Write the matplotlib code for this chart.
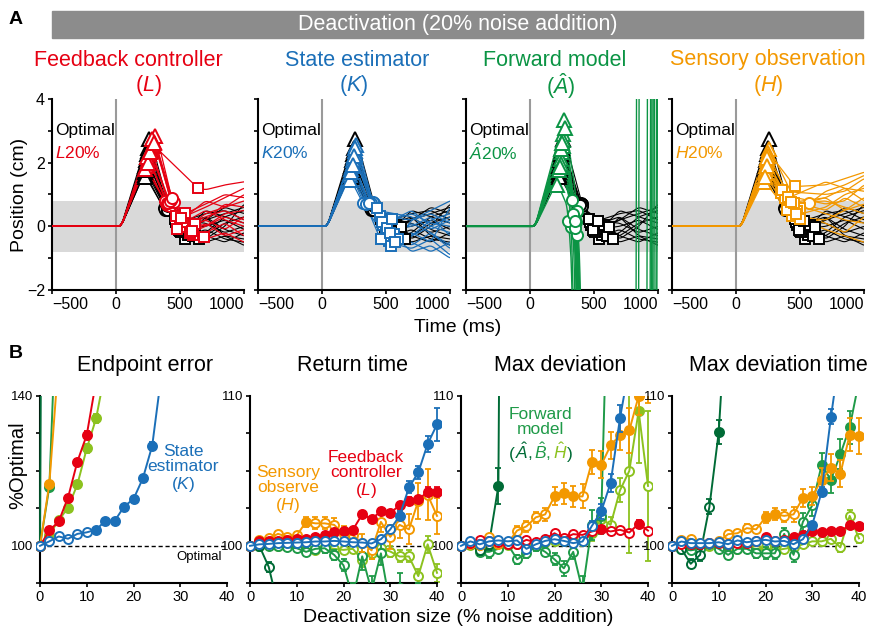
import numpy as np
import matplotlib
matplotlib.use("Agg")
import matplotlib.pyplot as plt
import matplotlib.transforms as mtransforms
from matplotlib.patches import Rectangle
from matplotlib.offsetbox import TextArea, HPacker, AnnotationBbox

plt.rcParams['font.family'] = 'Liberation Sans'
plt.rcParams['mathtext.fontset'] = 'custom'
plt.rcParams['mathtext.rm'] = 'Liberation Sans'
plt.rcParams['mathtext.it'] = 'Liberation Sans:italic'

RED = "#e60012"
BLUE = "#1b6fb8"
GREEN = "#0b9444"
ORANGE = "#f39800"
DKGREEN = "#006b36"
MDGREEN = "#1f9a48"
LTGREEN = "#8cc21f"

# ---------------- panel A: trajectories ----------------
# rows: (t_peak, peak, t_circle, y_circle, t_square, y_square, y@700, y@850, y@1000)
opt_rows = [
    (260, 2.9, 410, 0.65, 540, -0.45, -0.3, 0.1, 0.3),
    (250, 2.6, 400, 0.70, 500, -0.20, 0.2, 0.4, 0.6),
    (240, 2.4, 400, 0.60, 480, 0.00, 0.3, -0.1, -0.3),
    (235, 2.2, 395, 0.65, 560, -0.30, -0.1, -0.4, -0.5),
    (230, 2.0, 390, 0.60, 470, 0.10, 0.4, 0.5, 0.2),
    (230, 1.9, 385, 0.55, 520, -0.10, 0.0, 0.2, -0.1),
    (225, 1.8, 380, 0.60, 600, -0.35, -0.2, 0.3, 0.5),
    (225, 1.7, 380, 0.50, 460, 0.20, 0.1, -0.2, 0.0),
    (220, 1.65, 375, 0.55, 650, -0.40, -0.5, -0.3, -0.6),
    (245, 2.3, 405, 0.70, 510, -0.25, 0.5, 0.3, 0.1),
    (240, 2.1, 400, 0.60, 580, 0.05, -0.3, -0.5, -0.2),
    (235, 1.95, 395, 0.50, 490, -0.15, 0.2, 0.6, 0.4),
    (250, 2.5, 405, 0.60, 530, 0.15, -0.4, 0.0, 0.7),
    (230, 1.85, 390, 0.65, 620, -0.05, 0.3, -0.3, -0.4),
]
L_rows = [
    (310, 3.0, 440, 0.80, 560, 0.00, 0.4, 0.6, 0.8),
    (300, 2.8, 430, 0.75, 530, 0.30, 0.6, 0.9, 1.2),
    (280, 2.6, None, None, 640, 1.20, 1.15, 1.3, 1.4),
    (260, 2.4, 410, 0.80, 500, -0.10, 0.2, -0.1, 0.3),
    (250, 2.2, 400, 0.65, 470, 0.30, 0.0, 0.4, 0.5),
    (230, 2.0, 390, 0.70, 600, -0.30, -0.2, 0.1, -0.3),
    (220, 1.9, 380, 0.80, 520, 0.10, 0.5, 0.2, 0.0),
    (270, 2.5, 420, 0.60, 690, -0.35, -0.4, -0.2, -0.5),
    (290, 2.7, 450, 0.70, 540, 0.40, 0.7, 1.0, 0.9),
    (240, 2.3, 400, 0.75, 480, -0.15, 0.3, 0.5, 0.2),
    (250, 2.1, 410, 0.70, 580, -0.25, 0.1, -0.3, -0.1),
    (280, 2.9, 430, 0.80, 510, 0.20, 0.8, 0.6, 1.0),
    (265, 2.45, 420, 0.75, 620, 0.05, 0.2, 0.7, 0.6),
    (300, 2.75, 440, 0.85, 590, -0.20, 0.0, 0.3, 0.1),
]
K_rows = [
    (270, 2.7, 400, 0.70, 520, -0.50, -0.7, -0.4, -0.9),
    (260, 2.5, 390, 0.70, 480, 0.00, -0.3, 0.2, 0.4),
    (250, 2.3, 380, 0.72, 560, -0.30, 0.1, -0.2, -0.6),
    (240, 2.1, 370, 0.70, 450, 0.30, 0.2, 0.5, 0.8),
    (230, 1.9, 350, 0.70, 500, -0.20, -0.5, -0.8, -0.5),
    (220, 1.7, 330, 0.70, 470, 0.10, 0.4, 0.1, 0.0),
    (215, 1.55, 320, 0.72, 540, -0.65, -0.3, 0.0, 0.3),
    (255, 2.4, 400, 0.68, 590, -0.40, -0.8, -0.6, -1.0),
    (245, 2.2, 410, 0.75, 430, 0.50, 0.3, -0.1, 0.2),
    (235, 2.0, 360, 0.70, 510, -0.10, 0.0, 0.3, -0.3),
    (225, 1.8, 340, 0.70, 460, -0.45, -0.2, -0.5, 0.6),
    (265, 2.6, 395, 0.70, 550, 0.20, 0.5, 0.0, -0.2),
    (250, 2.35, 385, 0.70, 530, -0.25, -0.6, -0.2, -0.7),
    (240, 2.05, 365, 0.72, 570, -0.55, 0.2, 0.4, 0.1),
]
H_rows = [
    (250, 2.55, None, None, 500, 0.50, 1.1, 1.3, 1.6),
    (240, 2.4, None, None, 460, 1.25, 1.3, 1.5, 1.7),
    (235, 2.2, None, None, 420, 0.60, 0.9, 1.2, 1.1),
    (230, 2.0, None, None, 350, 1.00, 0.7, 0.8, 1.3),
    (225, 1.8, None, None, 380, 0.85, 0.5, 0.9, 0.6),
    (220, 1.65, None, None, 440, 0.30, 0.2, 0.5, 0.9),
    (215, 1.45, None, None, 400, 0.50, 0.1, -0.2, 0.3),
    (245, 2.3, 570, 0.77, 480, 0.40, 0.8, 0.6, 0.4),
    (235, 2.1, None, None, 500, 0.20, -0.1, -0.3, -0.5),
    (230, 1.9, None, None, 360, 1.10, 1.0, 1.1, 1.5),
    (240, 2.25, None, None, 450, 0.70, 0.4, 0.2, 0.1),
    (225, 1.75, None, None, 410, 0.90, 1.4, 1.2, 0.8),
    (235, 2.0, None, None, 470, 0.35, 0.6, 1.0, 1.2),
    (220, 1.6, None, None, 430, 0.75, 0.9, 0.5, 0.7),
]
# forward model rows: (t_peak, peak, t_circle, y_circle, t_leave_bottom, t_vertical)
A_rows = [
    (280, 3.6, 330, 0.90, 380, 1000),
    (270, 3.1, 350, 0.60, 390, 960),
    (265, 2.9, 360, 0.40, 400, 1020),
    (260, 2.7, 370, 0.20, 395, 850),
    (255, 2.5, 340, 0.70, 370, 985),
    (250, 2.3, 320, 0.50, 345, 940),
    (245, 2.1, 345, 0.60, 385, 1005),
    (230, 1.9, 330, 0.65, 360, 830),
    (210, 1.4, 300, 0.55, 340, 990),
    (275, 3.3, 365, 0.80, 405, 970),
    (240, 2.0, 355, 0.30, 390, 1030),
    (250, 2.6, 335, 0.70, 375, 950),
    (260, 2.8, 350, 0.50, 385, 915),
]

# ---------------- panel B: % of optimal ----------------
deact = [0, 2, 4, 6, 8, 10, 12, 14, 16, 18, 20, 22, 24, 26, 28, 30, 32, 34, 36, 38, 40]

ee_K = [100, 101.2, 102.5, 101.9, 103.2, 103.6, 104.3, 106.7, 106.7, 110.5, 112.5, 118.0, 126.7, 146]
ee_K_err = [0, .2, .2, .2, .2, .2, .3, .4, .4, .5, .6, .7, 1.1, 1.5]
ee_K_fill = "000000111111111"
ee_L = [100, 104.1, 106.5, 112.9, 122.5, 129.6, 144]
ee_L_err = [0, .3, .4, .6, .8, 1.0, 1.2]
ee_L_fill = "0111111"
ee_Hh = [100, 103, 106.8, 110.2, 116.4, 126, 134, 147]
ee_Hh_err = [0, .3, .4, .6, .8, 1.2, 1.3, 1.5]
ee_Hh_fill = "01111111"
ee_H = [100, 116.6, 150]
ee_H_err = [0, .8, 1]
ee_H_fill = "011"
ee_Bh = [100, 115.8, 180]
ee_Bh_err = [0, .8, 1]
ee_Bh_fill = "011"
ee_Ah = [100, 600]
ee_Ah_err = [0, 0]
ee_Ah_fill = "01"

rt_K = [100, 100.1, 100.13, 100.18, 100.2, 100.22, 100.24, 100.29, 100.29, 100.33, 100.29,
        100.24, 100.22, 100.16, 100.44, 101.1, 102.0, 103.9, 104.9, 106.8, 108.1]
rt_K_err = [0, .05, .05, .05, .05, .05, .05, .05, .05, .05, .05, .05, .05, .05, .1, .15, .3, .4, .45, .55, 1.1]
rt_K_fill = "000000000000000011111"
rt_L = [100, 100.3, 100.3, 100.3, 100.38, 100.47, 100.44, 100.62, 100.73, 100.91, 101.0,
        101.07, 102.1, 101.8, 102.3, 102.2, 102.7, 103.0, 103.1, 103.6, 103.6]
rt_L_err = [0, .1, .1, .1, .1, .1, .12, .12, .12, .15, .15, .15, .15, .15, .2, .2, .2, .25, .25, .3, .3]
rt_L_fill = "011111111111111111111"
rt_H = [100, 100.4, 100.5, 100.8, 100.6, 100.7, 101.6, 101.5, 101.5, 101.4, 100.8,
        100.7, 100.2, 99.7, 101.6, 100.6, 101.4, 101.1, 103.0, 103.4, 102.0]
rt_H_err = [0, .15, .15, .2, .2, .25, .35, .4, .4, .45, .5, .5, .6, .6, .7, .8, .9, 1.0, 1.2, 1.7, 1.2]
rt_H_fill = "000000100000000000100"
rt_Hh = [100, 100, 100.07, 100, 100, 99.96, 99.84, 99.73, 99.89, 99.8, 99.73,
         99.8, 99.07, 99.51, 99.84, 99.62, 99.29, 99.29, 97.98, 100.1, 98.2]
rt_Hh_err = [0, .1, .1, .1, .1, .15, .2, .2, .2, .25, .3, .3, .5, .4, .3, .35, .4, .4, .5, .55, .6]
rt_Hh_fill = "0"
rt_Bh = [100, 100, 99.96, 99.96, 99.91, 99.84, 99.6, 99.8, 99.84, 99.4, 98.7,
         96.5, 99.3, 97.0, 99.5, 96.0, 97.2, 95.5, 96.5, 95.0, 96.0]
rt_Bh_err = [0, .1, .1, .1, .1, .15, .3, .3, .3, .35, .4, 1, .9, 1, .8, 1, 1, 1, 1, 1, 1]
rt_Bh_fill = "0"
rt_Ah = [100, 100, 98.6, 96]
rt_Ah_err = [0, .1, .35, .5]
rt_Ah_fill = "0"

md_K = [100, 100.3, 100.1, 100.3, 100.36, 100.3, 100.36, 99.8, 100.1, 100.33, 100.44,
        100.33, 100.18, 100.29, 101.33, 102.3, 104.2, 108.5, 112]
md_K_err = [0, .1, .1, .1, .1, .1, .1, .15, .1, .1, .15, .15, .2, .2, .3, .5, .6, .9, .9]
md_K_fill = "0000000000000001111"
md_L = [100, 100.2, 100.4, 100.29, 100.24, 100.11, 100.11, 100.4, 100.24, 100.47, 100.84,
        100.51, 100.78, 100.73, 100.96, 101.1, 100.96, 101.07, 100.89, 101.47, 101.02]
md_L_err = [0, .12, .12, .12, .12, .12, .12, .15, .15, .15, .15, .15, .15, .15, .2, .2, .2, .2, .2, .25, .2]
md_L_fill = "000000000000000100010"
md_H = [100, 100.1, 100.07, 100.56, 100.11, 100.18, 101.02, 101.3, 101.9, 102.1, 103.3,
        103.5, 103.3, 103.3, 105.6, 105.4, 106.7, 107.4, 107.7, 110.0, 111]
md_H_err = [0, .1, .1, .15, .15, .2, .3, .35, .35, .45, .6, .7, .7, .8, .8, .9, .9, 1, 1.5, 1.3, 1.5]
md_H_fill = "000000000011101111111"
md_Ah = [100, 100.1, 99.7, 100.15, 104.0, 200]
md_Ah_err = [0, .1, .3, .4, 1.2, 0]
md_Ah_fill = "000011"
md_Bh = [100, 100.1, 99.6, 99.6, 99.8, 100.1, 99.1, 99.5, 99.96, 99.6, 99.1,
         98.5, 99.6, 97.0, 101.4, 102.0, 125]
md_Bh_err = [0, .1, .3, .4, .2, .2, .3, .3, .3, .3, .4, .5, .5, 1.0, 1.0, 1.2, 0]
md_Bh_fill = "0"
md_Hh = [100, 100.07, 99.96, 99.89, 99.84, 100.07, 100.11, 100.18, 100.11, 100.24, 100.29,
         100.33, 100.29, 100.29, 100.84, 101.8, 101.4, 103.7, 105, 109.0, 104.0]
md_Hh_err = [0, .1, .1, .1, .1, .1, .15, .15, .15, .2, .2, .25, .3, .3, .5, .6, .5, .8, 5.5, 3.5, 5]
md_Hh_fill = "000000000000000000010"

mt_Ah = [100, 99.8, 98.8, 99.4, 102.6, 107.6, 118]
mt_Ah_err = [0, .2, .3, .4, .5, .8, 0]
mt_Ah_fill = "0000011"
mt_K = [100, 100.29, 100.18, 100.18, 100.18, 100.24, 100.11, 100.36, 100.24, 100.33, 100.4,
        100.29, 100.33, 100.11, 100.44, 101.4, 103.6, 108.6, 113]
mt_K_err = [0, .08, .08, .08, .08, .08, .08, .1, .1, .1, .1, .1, .1, .1, .15, .2, .3, .5, .5]
mt_K_fill = "0000000000000001111"
mt_L = [100, 100.1, 100.15, 100.15, 100.2, 100.2, 100.15, 100.2, 100.2, 100.3, 100.6,
        100.29, 100.4, 100.62, 100.73, 100.96, 100.91, 100.96, 100.96, 101.4, 101.3]
mt_L_err = [0, .08, .08, .08, .08, .08, .1, .1, .1, .1, .1, .1, .1, .12, .12, .12, .12, .15, .15, .15, .15]
mt_L_fill = "000000000011111111111"
mt_H = [100, 100.4, 100.47, 100.18, 100.18, 100.29, 100.78, 100.84, 101.18, 101.1, 101.9,
        102.1, 102.0, 102.1, 103.2, 103.3, 104.4, 105.2, 104.8, 107.4, 107.3]
mt_H_err = [0, .1, .1, .1, .1, .1, .2, .2, .25, .25, .35, .4, .4, .5, .6, .6, .8, .9, .9, 1.1, 1.2]
mt_H_fill = "000000000011001111111"
mt_Bh = [100, 99.8, 99.7, 99.8, 100.1, 99.8, 99.4, 99.8, 99.8, 99.5, 99.5,
         99.5, 100.8, 99.4, 101.6, 102.7, 105.4, 104.4, 106.1, 107.9, 111]
mt_Bh_err = [0, .1, .2, .3, .2, .2, .3, .3, .3, .3, .4, .4, .4, .5, .6, .7, .8, .9, 1, 1.1, 0]
mt_Bh_fill = "000000000000000011111"
mt_Hh = [100, 100, 100.07, 100.04, 100, 99.96, 99.9, 99.8, 99.9, 99.8, 99.9,
         99.7, 99.8, 99.9, 100.1, 100.3, 100.3, 100.47, 99.9, 102.0, 100.5]
mt_Hh_err = [0, .1, .1, .1, .1, .1, .15, .15, .15, .2, .2, .2, .2, .2, .25, .25, .3, .3, .3, .4, .3]
mt_Hh_fill = "0"

W, H = 872, 631
fig = plt.figure(figsize=(W / 100, H / 100), dpi=100)


def fx(px):
    return px / W


def fy(py):
    return 1 - py / H


GRID = np.arange(-500, 1001, 5)


def smooth(y, n=9):
    yp = np.pad(y, n // 2, mode='edge')
    return np.convolve(yp, np.ones(n) / n, mode='valid')


def curve(knots):
    knots = sorted(knots)
    t = [k[0] for k in knots]
    v = [k[1] for k in knots]
    return smooth(np.interp(GRID, t, v))


def bundle(ax, rows, color, lw, z):
    marks = {'^': [], 'o': [], 's': []}
    for r in rows:
        tpk, pk, tc, yc, tsq, ysq, y7, y8, y10 = r
        kn = [(-500, 0), (40, 0), (tpk, pk), (tsq, ysq), (700, y7), (850, y8), (1000, y10)]
        if tc is not None:
            kn.append((tc, yc))
        y = curve(kn)
        ax.plot(GRID, y, color=color, lw=lw, zorder=z)
        i = np.argmax(y)
        marks['^'].append((GRID[i], y[i]))
        if tc is not None:
            marks['o'].append((tc, np.interp(tc, GRID, y)))
        marks['s'].append((tsq, np.interp(tsq, GRID, y)))
    return marks


def forward_bundle(ax, rows, color, lw, z):
    marks = {'^': [], 'o': [], 's': []}
    for r in rows:
        tpk, pk, tc, yc, tdn, tup = r
        kn = [(-500, 0), (40, 0), (tpk, pk), (tc, yc), (tdn, -2.5), (tdn + 60, -30),
              (tup - 20, -40), (tup + 20, 40)]
        y = curve(kn)
        ax.plot(GRID, y, color=color, lw=lw, zorder=z)
        i = np.argmax(y[:200])
        marks['^'].append((GRID[i], y[i]))
        marks['o'].append((tc, np.interp(tc, GRID, y)))
    return marks


def draw_marks(ax, marks, color, z):
    sizes = {'^': 10, 'o': 8, 's': 7.5}
    for m, pts in marks.items():
        if not pts:
            continue
        xs, ys = zip(*pts)
        ax.plot(xs, ys, m, ms=sizes[m], mfc='white', mec=color, mew=1.4, zorder=z, ls='none')


# banner
fig.patches.append(Rectangle((fx(52), fy(38)), fx(863) - fx(52), 27 / H,
                             transform=fig.transFigure, color='#8c8c8c'))
fig.text(fx(458), fy(24.5), 'Deactivation (20% noise addition)', color='white',
         fontsize=15.5, ha='center', va='center')
fig.text(fx(16), fy(20), 'A', fontsize=14, fontweight='bold', ha='center', va='center')
fig.text(fx(16), fy(353), 'B', fontsize=14, fontweight='bold', ha='center', va='center')

a_titles = [('Feedback controller', r'$(L)$', RED, 128, 148),
            ('State estimator', r'$(K)$', BLUE, 357, 354),
            ('Forward model', r'$(\hat{A})$', GREEN, 555, 561),
            ('Sensory observation', r'$(H)$', ORANGE, 768, 768)]
a_tags = [r'$L$20%', r'$K$20%', r'$\hat{A}$20%', r'$H$20%']
a_rows = [L_rows, K_rows, A_rows, H_rows]
a_lefts = [52, 258, 466, 672]

for i in range(4):
    ax = fig.add_axes([fx(a_lefts[i]), fy(290), 192 / W, 191 / H])
    title, sym, col, tx, sx = a_titles[i]
    fig.text(fx(tx), fy(60), title, color=col, fontsize=15.5, ha='center', va='center')
    fig.text(fx(sx), fy(86), sym, color=col, fontsize=15.5, ha='center', va='center')

    ax.axhspan(-0.8, 0.8, color='#d9d9d9', zorder=0, lw=0)
    ax.axvline(0, color='#9a9a9a', lw=1.5, zorder=1)
    m_opt = bundle(ax, opt_rows, 'black', 0.8, 2)
    if i == 2:
        m_col = forward_bundle(ax, a_rows[i], col, 1.0, 3)
    else:
        m_col = bundle(ax, a_rows[i], col, 0.9, 3)
    draw_marks(ax, m_opt, 'black', 4)
    draw_marks(ax, m_col, col, 5)

    ax.text(-475, 3.0, 'Optimal', fontsize=12.5, va='center', ha='left')
    ax.text(-475, 2.3, a_tags[i], color=col, fontsize=12.5, va='center', ha='left')

    ax.set_xlim(-500, 1000)
    ax.set_ylim(-2, 4)
    ax.set_xticks([-500, 0, 500, 1000])
    labs = ax.set_xticklabels(['\u2212500', '0', '500', '1000'], fontsize=11.5)
    labs[0].set_ha('left')
    labs[0].set_transform(labs[0].get_transform() +
                          mtransforms.ScaledTranslation(-4 / 100, 0, fig.dpi_scale_trans))
    labs[-1].set_ha('right')
    labs[-1].set_transform(labs[-1].get_transform() +
                           mtransforms.ScaledTranslation(2 / 100, 0, fig.dpi_scale_trans))
    ax.set_yticks([-2, -1, 0, 1, 2, 3, 4])
    if i == 0:
        ax.set_yticklabels(['\u22122', '', '0', '', '2', '', '4'], fontsize=11.5)
    else:
        ax.set_yticklabels([])
    for s in ['top', 'right']:
        ax.spines[s].set_visible(False)
    for s in ['left', 'bottom']:
        ax.spines[s].set_linewidth(1.5)
    ax.tick_params(direction='out', length=3, width=1.2, pad=2)

fig.text(fx(20), fy(195), 'Position (cm)', fontsize=14, rotation=90, ha='center', va='center')
fig.text(fx(458), fy(327), 'Time (ms)', fontsize=14, ha='center', va='center')

# ---------------- panel B ----------------
panels = [
    ('Endpoint error', (90, 140), [90, 100, 110, 120, 130, 140],
     [(ee_Hh, ee_Hh_err, ee_Hh_fill, LTGREEN), (ee_Bh, ee_Bh_err, ee_Bh_fill, MDGREEN),
      (ee_Ah, ee_Ah_err, ee_Ah_fill, DKGREEN), (ee_H, ee_H_err, ee_H_fill, ORANGE),
      (ee_L, ee_L_err, ee_L_fill, RED), (ee_K, ee_K_err, ee_K_fill, BLUE)], 145),
    ('Return time', (97.5, 110), [97.5, 100, 102.5, 105, 107.5, 110],
     [(rt_Hh, rt_Hh_err, rt_Hh_fill, LTGREEN), (rt_Bh, rt_Bh_err, rt_Bh_fill, MDGREEN),
      (rt_Ah, rt_Ah_err, rt_Ah_fill, DKGREEN), (rt_H, rt_H_err, rt_H_fill, ORANGE),
      (rt_L, rt_L_err, rt_L_fill, RED), (rt_K, rt_K_err, rt_K_fill, BLUE)], 352),
    ('Max deviation', (97.5, 110), [97.5, 100, 102.5, 105, 107.5, 110],
     [(md_Hh, md_Hh_err, md_Hh_fill, LTGREEN), (md_Bh, md_Bh_err, md_Bh_fill, MDGREEN),
      (md_Ah, md_Ah_err, md_Ah_fill, DKGREEN), (md_H, md_H_err, md_H_fill, ORANGE),
      (md_L, md_L_err, md_L_fill, RED), (md_K, md_K_err, md_K_fill, BLUE)], 560),
    ('Max deviation time', (97.5, 110), [97.5, 100, 102.5, 105, 107.5, 110],
     [(mt_Hh, mt_Hh_err, mt_Hh_fill, LTGREEN), (mt_Bh, mt_Bh_err, mt_Bh_fill, MDGREEN),
      (mt_Ah, mt_Ah_err, mt_Ah_fill, DKGREEN), (mt_H, mt_H_err, mt_H_fill, ORANGE),
      (mt_L, mt_L_err, mt_L_fill, RED), (mt_K, mt_K_err, mt_K_fill, BLUE)], 778),
]
b_zero = [40, 250, 461, 672]
pxu = 187 / 40
x = np.array(deact, dtype=float)


def pad(v, fill=np.nan):
    out = np.full(len(deact), fill, dtype=float)
    out[:len(v)] = v
    return out


for j, (title, ylim, yt, series, tx) in enumerate(panels):
    ax = fig.add_axes([fx(b_zero[j] - 0.8 * pxu), fy(583.3), 41.6 * pxu / W, 187.3 / H])
    ax.set_xlim(-0.8, 40.8)
    ax.set_ylim(*ylim)
    fig.text(fx(tx), fy(366), title, fontsize=15.5, ha='center', va='center')
    ax.plot([0, 40], [100, 100], color='black', ls=(0, (3, 2)), lw=1, zorder=1)
    for z, (vals, err, fill, col) in enumerate(series):
        y = pad(vals)
        e = pad(err, 0)
        f = np.array([c == '1' for c in fill.ljust(len(deact), '0')])
        ax.errorbar(x, y, yerr=e, color=col, lw=1.4, elinewidth=1.3, capsize=2,
                    capthick=1.3, zorder=2 + z)
        ax.plot(x[f], y[f], 'o', ms=6.5, mfc=col, mec=col, mew=1.4, zorder=2 + z, ls='none')
        ax.plot(x[~f], y[~f], 'o', ms=6.5, mfc='white', mec=col, mew=1.4, zorder=2 + z, ls='none')
    ax.spines['left'].set_position(('data', 0))
    ax.spines['bottom'].set_bounds(0, 40)
    for s in ['top', 'right']:
        ax.spines[s].set_visible(False)
    for s in ['left', 'bottom']:
        ax.spines[s].set_linewidth(1.5)
    ax.set_xticks([0, 10, 20, 30, 40])
    ax.set_xticklabels(['0', '10', '20', '30', '40'], fontsize=10.5)
    ax.set_yticks(yt)
    ax.set_yticklabels(['' if v not in (100, ylim[1]) else '%d' % v for v in yt], fontsize=9.5)
    ax.tick_params(direction='out', length=3, width=1.2, pad=2)
    if j == 0:
        ax.text(38.8, 97.0, 'Optimal', fontsize=9.5, ha='right', va='center')

fig.text(fx(18), fy(465), '%Optimal', fontsize=14.5, rotation=90, ha='center', va='center')
fig.text(fx(183), fy(469), 'State\nestimator\n$(K)$', color=BLUE, fontsize=12.5,
         ha='center', va='center', linespacing=1.05)
fig.text(fx(288), fy(490), 'Sensory\nobserve\n$(H)$', color=ORANGE, fontsize=12.5,
         ha='center', va='center', linespacing=1.05)
fig.text(fx(366), fy(475), 'Feedback\ncontroller\n$(L)$', color=RED, fontsize=12.5,
         ha='center', va='center', linespacing=1.05)
fig.text(fx(540), fy(422), 'Forward\nmodel', color=MDGREEN, fontsize=12.5,
         ha='center', va='center', linespacing=1.05)
parts = [('(', DKGREEN), (r'$\hat{A}$, ', DKGREEN), (r'$\hat{B}$, ', MDGREEN),
         (r'$\hat{H}$', LTGREEN), (')', DKGREEN)]
box = HPacker(children=[TextArea(t, textprops=dict(color=c, fontsize=12.5)) for t, c in parts],
              pad=0, sep=0, align='baseline')
fig.add_artist(AnnotationBbox(box, (fx(541), fy(452)), xycoords='figure fraction',
                              frameon=False, box_alignment=(0.5, 0.5)))

fig.text(fx(458), fy(618), 'Deactivation size (% noise addition)', fontsize=14,
         ha='center', va='center')

fig.savefig('out.png', dpi=100)
